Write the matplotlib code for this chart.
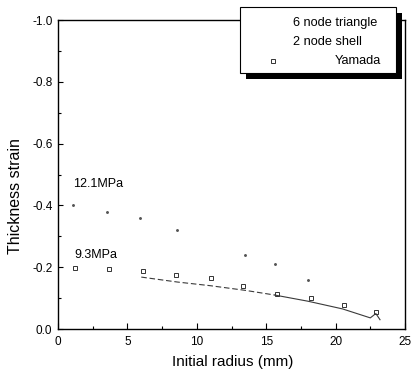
import matplotlib
matplotlib.use("Agg")
import matplotlib.pyplot as plt
from matplotlib.patches import Rectangle
from matplotlib.lines import Line2D
from matplotlib.ticker import MultipleLocator

plt.rcParams['font.family'] = ['Liberation Sans', 'DejaVu Sans']
plt.rcParams['axes.unicode_minus'] = False

# ---- data ----
yamada_radius = [1.2, 3.65, 6.1, 8.5, 11.0, 13.3, 15.8, 18.2, 20.6, 22.9]
yamada_strain = [-0.197, -0.194, -0.188, -0.175, -0.165, -0.14, -0.113, -0.10, -0.078, -0.055]

tri121_radius = [1.1, 3.5, 5.9, 8.6, 13.5, 15.6, 18.0]
tri121_strain = [-0.40, -0.38, -0.36, -0.32, -0.24, -0.21, -0.16]

shell93_radius = [6.0, 8.6, 11.0, 13.5, 15.6]
shell93_strain = [-0.168, -0.152, -0.140, -0.125, -0.110]

tri93_radius = [15.6, 18.0, 20.5, 22.5, 22.9, 23.2]
tri93_strain = [-0.110, -0.090, -0.065, -0.036, -0.050, -0.030]

legend_labels = ["6 node triangle", "2 node shell", "Yamada"]
annotations = [("12.1MPa", 1.05, -0.47), ("9.3MPa", 1.2, -0.24)]

xticks = [0, 5, 10, 15, 20, 25]
yticks = [0.0, -0.2, -0.4, -0.6, -0.8, -1.0]

# ---- figure ----
W, H = 413, 379
fig = plt.figure(figsize=(W / 100, H / 100), dpi=100)
L, R, T, B = 58, 405, 20, 329
ax = fig.add_axes([L / W, 1 - B / H, (R - L) / W, (B - T) / H])

line_col = '#3a3a3a'
ax.plot(tri121_radius, tri121_strain, ls='none', marker='.', ms=2.2,
        color='#555555')
ax.plot(shell93_radius, shell93_strain, ls=(0, (5, 2.5)), lw=0.8, color=line_col)
ax.plot(tri93_radius, tri93_strain, ls='-', lw=0.8, color=line_col)
ax.plot(yamada_radius, yamada_strain, ls='none', marker='s', ms=3.3,
        mfc='none', mec='#333333', mew=0.7)

for txt, xx, yy in annotations:
    ax.text(xx, yy, txt, fontsize=9, ha='left', va='center')

ax.set_xlim(0, 25)
ax.set_ylim(0, -1.0)
ax.set_xticks(xticks)
ax.set_yticks(yticks)
ax.set_yticklabels([f"{v:.1f}" if v != 0 else "0.0" for v in yticks])
ax.xaxis.set_minor_locator(MultipleLocator(2.5))
ax.yaxis.set_minor_locator(MultipleLocator(0.1))
ax.tick_params(which='both', direction='in', labelsize=8.5, width=0.8)
ax.tick_params(axis='x', which='major', length=4, pad=5)
ax.tick_params(axis='x', which='minor', length=2)
ax.tick_params(axis='y', which='major', length=3.5, pad=4)
ax.tick_params(axis='y', which='minor', length=2.5)
for s in ax.spines.values():
    s.set_linewidth(1.0)

fig.text(233 / W, 1 - 362 / H, "Initial radius (mm)", fontsize=11,
         ha='center', va='center')
fig.text(16 / W, 1 - 196 / H, "Thickness strain", fontsize=11.5,
         ha='center', va='center', rotation=90)

# ---- legend box with shadow ----
bl, br, bt, bb = 240, 396, 7, 73
off = 6
fig.add_artist(Rectangle(((bl + off) / W, 1 - (bb + off) / H), (br - bl) / W,
                         (bb - bt) / H, transform=fig.transFigure,
                         facecolor='black', edgecolor='none', zorder=5))
fig.add_artist(Rectangle((bl / W, 1 - bb / H), (br - bl) / W, (bb - bt) / H,
                         transform=fig.transFigure, facecolor='white',
                         edgecolor='black', lw=0.8, zorder=6))
rows_y = [23, 42, 61]
text_x = [293, 293, 335]
for lab, ty, tx in zip(legend_labels, rows_y, text_x):
    fig.text(tx / W, 1 - ty / H, lab, fontsize=9.2, ha='left', va='center',
             zorder=7)
fig.add_artist(Line2D([273 / W], [1 - 61 / H], transform=fig.transFigure,
                      ls='none', marker='s', ms=3.0, mfc='none', mec='#333333',
                      mew=0.7, zorder=7))

fig.savefig("out.png", dpi=100)
